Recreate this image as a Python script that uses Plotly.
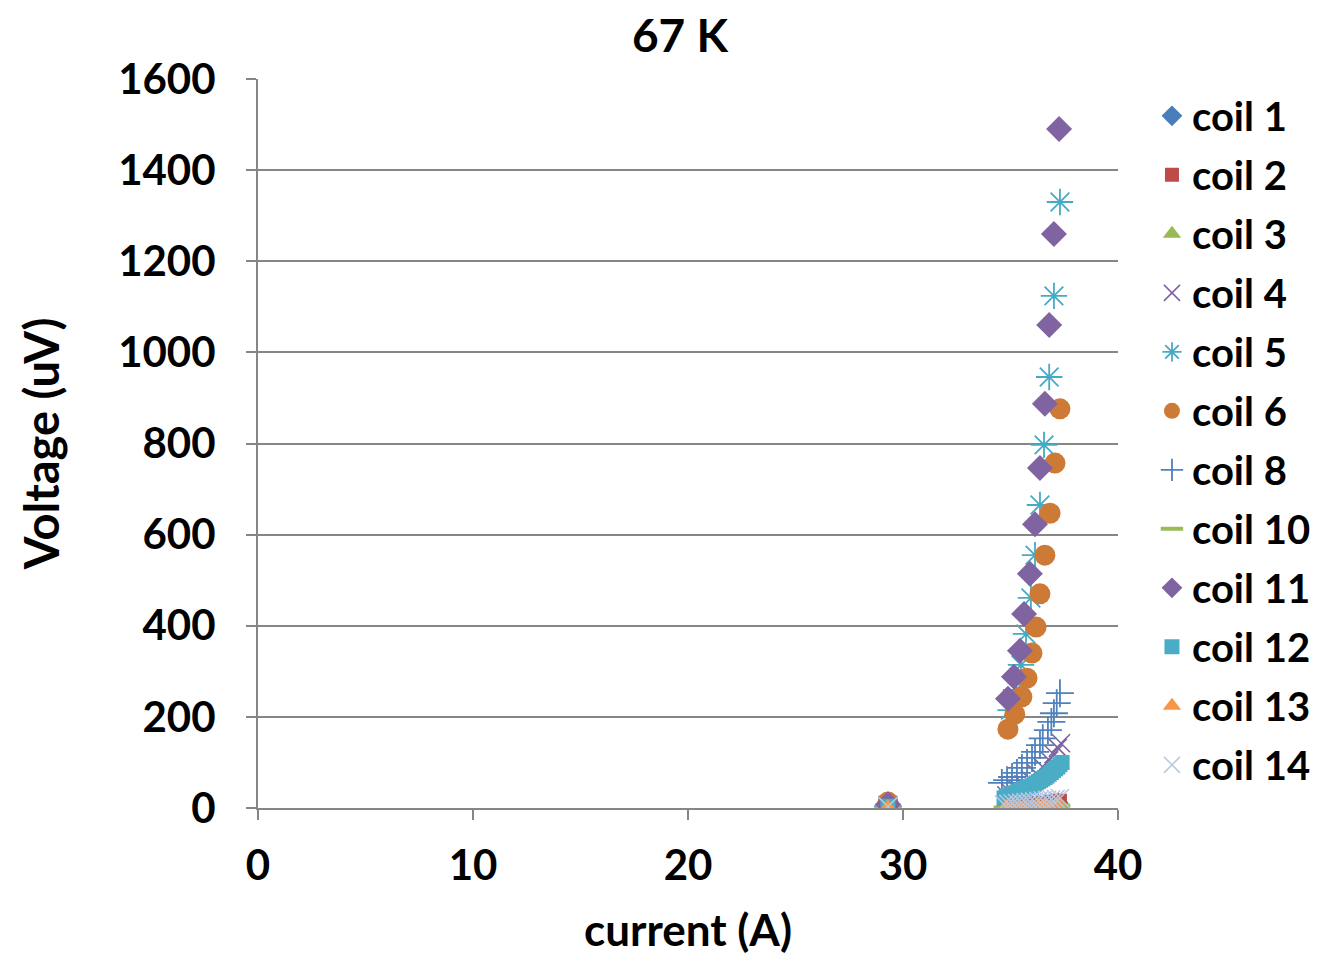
import plotly.graph_objects as go

# ---- data (current in A, voltage in uV) ----
coil1_I = [29.3, 34.8, 35.1, 35.4, 35.7, 36.0, 36.3, 36.6, 36.9, 37.2]
coil1_V = [2, 3, 4, 4, 5, 6, 7, 8, 9, 11]

coil2_I = [29.3, 34.8, 35.1, 35.4, 35.7, 36.0, 36.3, 36.6, 36.9, 37.1, 37.3]
coil2_V = [3, 4, 4, 5, 6, 7, 8, 9, 11, 13, 16]

coil3_I = [29.3, 34.8, 35.1, 35.4, 35.7, 36.0, 36.3, 36.6, 36.9, 37.1, 37.3]
coil3_V = [1, 1, 1, 2, 2, 2, 3, 3, 4, 5, 6]

coil4_I = [29.3, 34.8, 35.0, 35.3, 35.6, 35.9, 36.2, 36.5, 36.8, 37.0, 37.2, 37.35]
coil4_V = [2, 28, 34, 42, 52, 63, 76, 90, 105, 118, 132, 142]

coil5_I = [29.3, 35.0, 35.26, 35.49, 35.72, 35.95, 36.14, 36.37, 36.56, 36.8, 37.02, 37.3]
coil5_V = [6, 215, 259, 314, 382, 461, 555, 665, 797, 946, 1124, 1330]

coil6_I = [29.3, 34.88, 35.2, 35.53, 35.77, 36.0, 36.19, 36.37, 36.6, 36.84, 37.07, 37.3]
coil6_V = [13, 173, 206, 244, 285, 340, 397, 470, 555, 647, 757, 876]

coil8_I = [29.3, 34.6, 34.84, 35.07, 35.3, 35.53, 35.77, 36.0, 36.14, 36.37, 36.5, 36.74, 36.9, 37.02, 37.15, 37.3]
coil8_V = [3, 55, 61, 68, 77, 88, 99, 110, 123, 138, 153, 171, 189, 208, 230, 252]

coil10_I = [29.3, 34.8, 35.1, 35.4, 35.7, 36.0, 36.3, 36.6, 36.9, 37.2]
coil10_V = [1, 1, 2, 2, 2, 3, 3, 4, 4, 5]

coil11_I = [29.3, 34.88, 35.16, 35.44, 35.63, 35.9, 36.14, 36.37, 36.6, 36.8, 37.02, 37.26]
coil11_V = [8, 240, 288, 345, 426, 514, 623, 746, 887, 1060, 1260, 1490]

coil12_I = [29.3, 34.7, 34.8, 34.9, 35.0, 35.1, 35.2, 35.3, 35.4, 35.5, 35.6, 35.7,
            35.8, 35.9, 36.0, 36.1, 36.2, 36.3, 36.4, 36.5, 36.6, 36.7, 36.8,
            36.9, 37.0, 37.1, 37.2, 37.3, 37.4]
coil12_V = [4, 22, 25, 27, 29, 31, 33, 35, 37, 39, 41, 43,
            45, 47, 49, 52, 55, 58, 61, 64, 67, 70, 74,
            78, 82, 86, 90, 95, 100]

coil13_I = [29.3, 34.8, 35.1, 35.4, 35.7, 36.0, 36.3, 36.6, 36.9, 37.2]
coil13_V = [2, 2, 3, 3, 4, 4, 5, 5, 6, 7]

coil14_I = [29.3, 34.7, 34.9, 35.1, 35.3, 35.5, 35.7, 35.9, 36.1, 36.3, 36.5, 36.7, 36.9, 37.1, 37.3]
coil14_V = [3, 8, 9, 10, 11, 12, 13, 14, 15, 16, 17, 18, 19, 20, 22]

x_ticks = [0, 10, 20, 30, 40]
y_ticks = [0, 200, 400, 600, 800, 1000, 1200, 1400, 1600]

series = [
    ("coil 1", coil1_I, coil1_V, "diamond", "#4A7EBB", 17, 0),
    ("coil 2", coil2_I, coil2_V, "square", "#BE4B48", 14, 0),
    ("coil 3", coil3_I, coil3_V, "triangle-up", "#98B954", 16, 0),
    ("coil 4", coil4_I, coil4_V, "x-thin-open", "#7D60A0", 18, 1.5),
    ("coil 5", coil5_I, coil5_V, "asterisk-open", "#46AAC5", 22, 1.8),
    ("coil 6", coil6_I, coil6_V, "circle", "#CC7A36", 21, 0),
    ("coil 8", coil8_I, coil8_V, "cross-thin-open", "#4F81BD", 20, 1.8),
    ("coil 10", coil10_I, coil10_V, "line-ew-open", "#9BBB59", 18, 4),
    ("coil 11", coil11_I, coil11_V, "diamond", "#8064A2", 20, 0),
    ("coil 12", coil12_I, coil12_V, "square", "#4BACC6", 15, 0),
    ("coil 13", coil13_I, coil13_V, "triangle-up", "#F79646", 16, 0),
    ("coil 14", coil14_I, coil14_V, "x-thin-open", "#B9C7E0", 18, 1.5),
]

fig = go.Figure()
for i, (name, xs, ys, sym, col, size, lw) in enumerate(series):
    marker = dict(symbol=sym, color=col, size=size)
    if lw:
        marker["line"] = dict(color=col, width=lw)
    else:
        marker["line"] = dict(width=0)
    fig.add_trace(go.Scatter(x=xs, y=ys, mode="markers", name=f"<b>{name}</b>",
                             marker=marker, legendgroup=f"g{i}"))

font_family = "Lato, 'Open Sans', sans-serif"
fig.update_layout(
    width=1314, height=947,
    paper_bgcolor="white", plot_bgcolor="white",
    margin=dict(l=250, r=204, t=71, b=147, autoexpand=False),
    title=dict(text="<b>67 K</b>", x=0.5114, xanchor="center", y=1 - 28 / 947, yanchor="middle",
               font=dict(family=font_family, size=46, color="black")),
    font=dict(family=font_family, color="black"),
    showlegend=True,
    legend=dict(x=1.0395, y=0.994, xanchor="left", yanchor="top",
                font=dict(family=font_family, size=40, color="black"),
                tracegroupgap=4, traceorder="grouped",
                itemsizing="trace", bgcolor="rgba(0,0,0,0)"),
)
fig.update_xaxes(
    range=[0, 40], tickvals=x_ticks, ticktext=[f"<b>{t}</b>" for t in x_ticks],
    showgrid=False, zeroline=False, showline=True, linecolor="#868686", linewidth=2,
    ticks="outside", ticklen=10, tickwidth=2, tickcolor="#868686",
    ticklabelstandoff=10,
    tickfont=dict(family=font_family, size=42, color="black"),
    title=dict(text="<b>current (A)</b>", font=dict(family=font_family, size=44, color="black"), standoff=29),
)
fig.update_yaxes(
    range=[0, 1600], tickvals=y_ticks, ticktext=[f"<b>{t}</b>" for t in y_ticks],
    showgrid=True, gridcolor="#868686", gridwidth=2, zeroline=False,
    showline=True, linecolor="#868686", linewidth=2,
    ticks="outside", ticklen=10, tickwidth=2, tickcolor="#868686",
    ticklabelstandoff=22,
    tickfont=dict(family=font_family, size=42, color="black"),
    title=dict(text="<b>Voltage (uV)</b>", font=dict(family=font_family, size=47, color="black"), standoff=44),
)

fig.write_html("out.html")
